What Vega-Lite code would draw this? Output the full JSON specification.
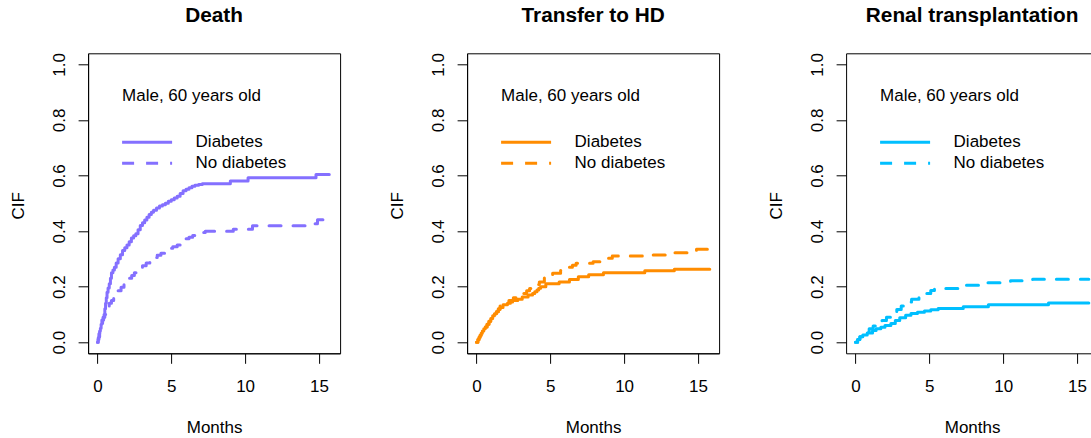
{
  "$schema": "https://vega.github.io/schema/vega-lite/v6.json",
  "background": "white",
  "padding": {"left": 9.1, "top": 4.3, "right": 0, "bottom": 0},
  "bounds": "flush",
  "spacing": 127,
  "config": {
    "font": "Liberation Sans",
    "view": {"stroke": "black", "strokeWidth": 1},
    "axis": {"grid": false, "domain": true, "domainColor": "black", "domainWidth": 1, "tickColor": "black", "tickSize": 10, "tickWidth": 1, "labelColor": "black", "labelFont": "Liberation Sans", "labelFontSize": 17, "titleFont": "Liberation Sans", "titleFontSize": 17, "titleFontWeight": "normal", "titleColor": "black", "labelOverlap": false, "labelFlush": false, "labelBound": false},
    "axisX": {"labelBaseline": "alphabetic", "labelAlign": "center", "labelPadding": 27.8, "titleBaseline": "alphabetic", "titleAlign": "center", "titleX": 126, "titleY": 79},
    "axisY": {"labelAngle": 270, "labelAlign": "center", "labelBaseline": "alphabetic", "labelPadding": 13.3, "titleAngle": 270, "titleAlign": "center", "titleBaseline": "alphabetic", "titleX": -64.3, "titleY": 152},
    "title": {"font": "Liberation Sans", "fontSize": 20.8, "fontWeight": "bold", "color": "black", "anchor": "middle", "frame": "group", "baseline": "alphabetic", "offset": 25.4},
    "legend": {"padding": 0, "titleFont": "Liberation Sans", "titleFontSize": 17, "titleFontWeight": "normal", "titleColor": "black", "titlePadding": 29, "labelFont": "Liberation Sans", "labelFontSize": 17, "labelColor": "black", "rowPadding": 3, "labelLimit": 0, "titleLimit": 0}
  },
  "datasets": {
    "death": [
      {"group": "Diabetes", "month": 0, "cif": 0}, {"group": "Diabetes", "month": 0.05, "cif": 0.015}, {"group": "Diabetes", "month": 0.1, "cif": 0.03}, {"group": "Diabetes", "month": 0.15, "cif": 0.04}, {"group": "Diabetes", "month": 0.2, "cif": 0.05}, {"group": "Diabetes", "month": 0.25, "cif": 0.065}, {"group": "Diabetes", "month": 0.3, "cif": 0.08}, {"group": "Diabetes", "month": 0.38, "cif": 0.09}, {"group": "Diabetes", "month": 0.45, "cif": 0.10}, {"group": "Diabetes", "month": 0.5, "cif": 0.12}, {"group": "Diabetes", "month": 0.55, "cif": 0.14}, {"group": "Diabetes", "month": 0.6, "cif": 0.16}, {"group": "Diabetes", "month": 0.65, "cif": 0.18}, {"group": "Diabetes", "month": 0.72, "cif": 0.195}, {"group": "Diabetes", "month": 0.8, "cif": 0.21}, {"group": "Diabetes", "month": 0.88, "cif": 0.23}, {"group": "Diabetes", "month": 0.95, "cif": 0.25}, {"group": "Diabetes", "month": 1.05, "cif": 0.26}, {"group": "Diabetes", "month": 1.15, "cif": 0.27}, {"group": "Diabetes", "month": 1.27, "cif": 0.285}, {"group": "Diabetes", "month": 1.4, "cif": 0.30}, {"group": "Diabetes", "month": 1.55, "cif": 0.315}, {"group": "Diabetes", "month": 1.7, "cif": 0.33}, {"group": "Diabetes", "month": 1.85, "cif": 0.34}, {"group": "Diabetes", "month": 2.0, "cif": 0.35}, {"group": "Diabetes", "month": 2.15, "cif": 0.362}, {"group": "Diabetes", "month": 2.3, "cif": 0.375}, {"group": "Diabetes", "month": 2.45, "cif": 0.383}, {"group": "Diabetes", "month": 2.6, "cif": 0.39}, {"group": "Diabetes", "month": 2.75, "cif": 0.405}, {"group": "Diabetes", "month": 2.9, "cif": 0.42}, {"group": "Diabetes", "month": 3.05, "cif": 0.43}, {"group": "Diabetes", "month": 3.2, "cif": 0.44}, {"group": "Diabetes", "month": 3.35, "cif": 0.45}, {"group": "Diabetes", "month": 3.5, "cif": 0.46}, {"group": "Diabetes", "month": 3.65, "cif": 0.468}, {"group": "Diabetes", "month": 3.8, "cif": 0.475}, {"group": "Diabetes", "month": 4.0, "cif": 0.483}, {"group": "Diabetes", "month": 4.2, "cif": 0.49}, {"group": "Diabetes", "month": 4.4, "cif": 0.495}, {"group": "Diabetes", "month": 4.6, "cif": 0.50}, {"group": "Diabetes", "month": 4.8, "cif": 0.507}, {"group": "Diabetes", "month": 5.0, "cif": 0.513}, {"group": "Diabetes", "month": 5.2, "cif": 0.519}, {"group": "Diabetes", "month": 5.4, "cif": 0.525}, {"group": "Diabetes", "month": 5.6, "cif": 0.535}, {"group": "Diabetes", "month": 5.8, "cif": 0.545}, {"group": "Diabetes", "month": 6.0, "cif": 0.551}, {"group": "Diabetes", "month": 6.2, "cif": 0.556}, {"group": "Diabetes", "month": 6.4, "cif": 0.561}, {"group": "Diabetes", "month": 6.6, "cif": 0.565}, {"group": "Diabetes", "month": 6.85, "cif": 0.568}, {"group": "Diabetes", "month": 7.1, "cif": 0.570}, {"group": "Diabetes", "month": 9.0, "cif": 0.58}, {"group": "Diabetes", "month": 10.2, "cif": 0.592}, {"group": "Diabetes", "month": 14.8, "cif": 0.604}, {"group": "Diabetes", "month": 15.7, "cif": 0.604},
      {"group": "No diabetes", "month": 0, "cif": 0}, {"group": "No diabetes", "month": 0.05, "cif": 0.01}, {"group": "No diabetes", "month": 0.1, "cif": 0.02}, {"group": "No diabetes", "month": 0.15, "cif": 0.035}, {"group": "No diabetes", "month": 0.2, "cif": 0.05}, {"group": "No diabetes", "month": 0.28, "cif": 0.065}, {"group": "No diabetes", "month": 0.35, "cif": 0.08}, {"group": "No diabetes", "month": 0.42, "cif": 0.09}, {"group": "No diabetes", "month": 0.5, "cif": 0.10}, {"group": "No diabetes", "month": 0.58, "cif": 0.11}, {"group": "No diabetes", "month": 0.65, "cif": 0.12}, {"group": "No diabetes", "month": 0.72, "cif": 0.13}, {"group": "No diabetes", "month": 0.8, "cif": 0.14}, {"group": "No diabetes", "month": 0.95, "cif": 0.15}, {"group": "No diabetes", "month": 1.1, "cif": 0.16}, {"group": "No diabetes", "month": 1.25, "cif": 0.173}, {"group": "No diabetes", "month": 1.4, "cif": 0.185}, {"group": "No diabetes", "month": 1.6, "cif": 0.198}, {"group": "No diabetes", "month": 1.8, "cif": 0.21}, {"group": "No diabetes", "month": 1.98, "cif": 0.22}, {"group": "No diabetes", "month": 2.15, "cif": 0.23}, {"group": "No diabetes", "month": 2.32, "cif": 0.24}, {"group": "No diabetes", "month": 2.5, "cif": 0.25}, {"group": "No diabetes", "month": 2.68, "cif": 0.258}, {"group": "No diabetes", "month": 2.85, "cif": 0.266}, {"group": "No diabetes", "month": 3.05, "cif": 0.275}, {"group": "No diabetes", "month": 3.3, "cif": 0.285}, {"group": "No diabetes", "month": 3.55, "cif": 0.295}, {"group": "No diabetes", "month": 3.8, "cif": 0.305}, {"group": "No diabetes", "month": 4.05, "cif": 0.313}, {"group": "No diabetes", "month": 4.3, "cif": 0.32}, {"group": "No diabetes", "month": 4.55, "cif": 0.329}, {"group": "No diabetes", "month": 4.85, "cif": 0.338}, {"group": "No diabetes", "month": 5.1, "cif": 0.344}, {"group": "No diabetes", "month": 5.4, "cif": 0.35}, {"group": "No diabetes", "month": 5.6, "cif": 0.358}, {"group": "No diabetes", "month": 5.8, "cif": 0.365}, {"group": "No diabetes", "month": 6.0, "cif": 0.372}, {"group": "No diabetes", "month": 6.2, "cif": 0.378}, {"group": "No diabetes", "month": 6.45, "cif": 0.384}, {"group": "No diabetes", "month": 6.7, "cif": 0.39}, {"group": "No diabetes", "month": 7.0, "cif": 0.395}, {"group": "No diabetes", "month": 7.3, "cif": 0.399}, {"group": "No diabetes", "month": 9.2, "cif": 0.407}, {"group": "No diabetes", "month": 10.5, "cif": 0.419}, {"group": "No diabetes", "month": 14.3, "cif": 0.426}, {"group": "No diabetes", "month": 14.9, "cif": 0.441}, {"group": "No diabetes", "month": 15.35, "cif": 0.441}
    ],
    "hd": [
      {"group": "Diabetes", "month": 0, "cif": 0}, {"group": "Diabetes", "month": 0.1, "cif": 0.01}, {"group": "Diabetes", "month": 0.18, "cif": 0.018}, {"group": "Diabetes", "month": 0.25, "cif": 0.025}, {"group": "Diabetes", "month": 0.32, "cif": 0.032}, {"group": "Diabetes", "month": 0.4, "cif": 0.04}, {"group": "Diabetes", "month": 0.5, "cif": 0.048}, {"group": "Diabetes", "month": 0.6, "cif": 0.055}, {"group": "Diabetes", "month": 0.72, "cif": 0.065}, {"group": "Diabetes", "month": 0.85, "cif": 0.075}, {"group": "Diabetes", "month": 0.97, "cif": 0.085}, {"group": "Diabetes", "month": 1.1, "cif": 0.095}, {"group": "Diabetes", "month": 1.22, "cif": 0.102}, {"group": "Diabetes", "month": 1.35, "cif": 0.11}, {"group": "Diabetes", "month": 1.48, "cif": 0.118}, {"group": "Diabetes", "month": 1.6, "cif": 0.125}, {"group": "Diabetes", "month": 1.8, "cif": 0.135}, {"group": "Diabetes", "month": 2.1, "cif": 0.14}, {"group": "Diabetes", "month": 2.3, "cif": 0.145}, {"group": "Diabetes", "month": 2.45, "cif": 0.15}, {"group": "Diabetes", "month": 2.8, "cif": 0.155}, {"group": "Diabetes", "month": 3.1, "cif": 0.163}, {"group": "Diabetes", "month": 3.5, "cif": 0.17}, {"group": "Diabetes", "month": 3.8, "cif": 0.175}, {"group": "Diabetes", "month": 3.95, "cif": 0.182}, {"group": "Diabetes", "month": 4.1, "cif": 0.188}, {"group": "Diabetes", "month": 4.22, "cif": 0.194}, {"group": "Diabetes", "month": 4.35, "cif": 0.2}, {"group": "Diabetes", "month": 4.7, "cif": 0.21}, {"group": "Diabetes", "month": 5.6, "cif": 0.217}, {"group": "Diabetes", "month": 6.3, "cif": 0.226}, {"group": "Diabetes", "month": 6.9, "cif": 0.236}, {"group": "Diabetes", "month": 7.6, "cif": 0.243}, {"group": "Diabetes", "month": 8.6, "cif": 0.25}, {"group": "Diabetes", "month": 11.4, "cif": 0.257}, {"group": "Diabetes", "month": 13.4, "cif": 0.263}, {"group": "Diabetes", "month": 15.8, "cif": 0.263},
      {"group": "No diabetes", "month": 0, "cif": 0}, {"group": "No diabetes", "month": 0.1, "cif": 0.01}, {"group": "No diabetes", "month": 0.18, "cif": 0.018}, {"group": "No diabetes", "month": 0.25, "cif": 0.025}, {"group": "No diabetes", "month": 0.32, "cif": 0.032}, {"group": "No diabetes", "month": 0.4, "cif": 0.04}, {"group": "No diabetes", "month": 0.5, "cif": 0.048}, {"group": "No diabetes", "month": 0.6, "cif": 0.055}, {"group": "No diabetes", "month": 0.72, "cif": 0.065}, {"group": "No diabetes", "month": 0.85, "cif": 0.075}, {"group": "No diabetes", "month": 0.97, "cif": 0.085}, {"group": "No diabetes", "month": 1.1, "cif": 0.095}, {"group": "No diabetes", "month": 1.22, "cif": 0.102}, {"group": "No diabetes", "month": 1.35, "cif": 0.11}, {"group": "No diabetes", "month": 1.48, "cif": 0.12}, {"group": "No diabetes", "month": 1.6, "cif": 0.13}, {"group": "No diabetes", "month": 1.8, "cif": 0.14}, {"group": "No diabetes", "month": 2.2, "cif": 0.15}, {"group": "No diabetes", "month": 2.5, "cif": 0.16}, {"group": "No diabetes", "month": 2.7, "cif": 0.168}, {"group": "No diabetes", "month": 2.9, "cif": 0.175}, {"group": "No diabetes", "month": 3.4, "cif": 0.185}, {"group": "No diabetes", "month": 3.6, "cif": 0.193}, {"group": "No diabetes", "month": 3.8, "cif": 0.2}, {"group": "No diabetes", "month": 4.05, "cif": 0.208}, {"group": "No diabetes", "month": 4.26, "cif": 0.217}, {"group": "No diabetes", "month": 4.6, "cif": 0.232}, {"group": "No diabetes", "month": 4.9, "cif": 0.24}, {"group": "No diabetes", "month": 5.16, "cif": 0.248}, {"group": "No diabetes", "month": 5.7, "cif": 0.258}, {"group": "No diabetes", "month": 6.2, "cif": 0.27}, {"group": "No diabetes", "month": 6.5, "cif": 0.277}, {"group": "No diabetes", "month": 6.75, "cif": 0.284}, {"group": "No diabetes", "month": 7.9, "cif": 0.29}, {"group": "No diabetes", "month": 8.66, "cif": 0.302}, {"group": "No diabetes", "month": 9.2, "cif": 0.31}, {"group": "No diabetes", "month": 11.4, "cif": 0.314}, {"group": "No diabetes", "month": 13.1, "cif": 0.322}, {"group": "No diabetes", "month": 14.9, "cif": 0.335}, {"group": "No diabetes", "month": 15.8, "cif": 0.335}
    ],
    "renal": [
      {"group": "Diabetes", "month": 0, "cif": 0}, {"group": "Diabetes", "month": 0.15, "cif": 0.01}, {"group": "Diabetes", "month": 0.3, "cif": 0.02}, {"group": "Diabetes", "month": 0.5, "cif": 0.026}, {"group": "Diabetes", "month": 0.8, "cif": 0.033}, {"group": "Diabetes", "month": 1.16, "cif": 0.042}, {"group": "Diabetes", "month": 1.4, "cif": 0.048}, {"group": "Diabetes", "month": 1.72, "cif": 0.054}, {"group": "Diabetes", "month": 2.0, "cif": 0.06}, {"group": "Diabetes", "month": 2.4, "cif": 0.067}, {"group": "Diabetes", "month": 2.7, "cif": 0.078}, {"group": "Diabetes", "month": 3.0, "cif": 0.088}, {"group": "Diabetes", "month": 3.4, "cif": 0.097}, {"group": "Diabetes", "month": 3.76, "cif": 0.103}, {"group": "Diabetes", "month": 4.2, "cif": 0.108}, {"group": "Diabetes", "month": 4.67, "cif": 0.112}, {"group": "Diabetes", "month": 5.1, "cif": 0.117}, {"group": "Diabetes", "month": 5.6, "cif": 0.121}, {"group": "Diabetes", "month": 7.3, "cif": 0.128}, {"group": "Diabetes", "month": 9.0, "cif": 0.135}, {"group": "Diabetes", "month": 13.07, "cif": 0.141}, {"group": "Diabetes", "month": 15.8, "cif": 0.141},
      {"group": "No diabetes", "month": 0, "cif": 0}, {"group": "No diabetes", "month": 0.15, "cif": 0.01}, {"group": "No diabetes", "month": 0.3, "cif": 0.02}, {"group": "No diabetes", "month": 0.5, "cif": 0.028}, {"group": "No diabetes", "month": 0.75, "cif": 0.038}, {"group": "No diabetes", "month": 0.93, "cif": 0.048}, {"group": "No diabetes", "month": 1.2, "cif": 0.058}, {"group": "No diabetes", "month": 1.5, "cif": 0.067}, {"group": "No diabetes", "month": 1.8, "cif": 0.078}, {"group": "No diabetes", "month": 2.1, "cif": 0.09}, {"group": "No diabetes", "month": 2.4, "cif": 0.103}, {"group": "No diabetes", "month": 2.8, "cif": 0.118}, {"group": "No diabetes", "month": 3.1, "cif": 0.13}, {"group": "No diabetes", "month": 3.42, "cif": 0.145}, {"group": "No diabetes", "month": 3.8, "cif": 0.155}, {"group": "No diabetes", "month": 4.3, "cif": 0.165}, {"group": "No diabetes", "month": 4.78, "cif": 0.175}, {"group": "No diabetes", "month": 5.1, "cif": 0.186}, {"group": "No diabetes", "month": 5.35, "cif": 0.193}, {"group": "No diabetes", "month": 7.3, "cif": 0.205}, {"group": "No diabetes", "month": 8.8, "cif": 0.214}, {"group": "No diabetes", "month": 10.5, "cif": 0.221}, {"group": "No diabetes", "month": 12.0, "cif": 0.227}, {"group": "No diabetes", "month": 15.8, "cif": 0.227}
    ]
  },
  "resolve": {"scale": {"strokeDash": "independent"}, "legend": {"strokeDash": "independent"}},
  "hconcat": [
    {
      "width": 252, "height": 300,
      "data": {"name": "death"},
      "title": {"text": "Death"},
      "mark": {"type": "line", "interpolate": "step-after", "strokeWidth": 3, "color": "#8470FF", "strokeCap": "round", "strokeJoin": "round"},
      "encoding": {
        "x": {"field": "month", "type": "quantitative", "title": "Months", "scale": {"domain": [-0.632, 16.432], "nice": false, "zero": false}, "axis": {"values": [0, 5, 10, 15]}},
        "y": {"field": "cif", "type": "quantitative", "title": "CIF", "scale": {"domain": [-0.04, 1.04], "nice": false, "zero": false}, "axis": {"values": [0, 0.2, 0.4, 0.6, 0.8, 1], "format": ".1f"}},
        "strokeDash": {"field": "group", "type": "nominal", "scale": {"domain": ["Diabetes", "No diabetes"], "range": [[1, 0], [12, 12]]}, "legend": {"title": "Male, 60 years old", "orient": "none", "legendX": 34, "legendY": 34.4, "symbolType": "M-5,0H5", "symbolSize": 100, "symbolStrokeWidth": 3, "symbolStrokeColor": "#8470FF", "symbolFillColor": "transparent", "symbolOffset": 16.5, "labelOffset": 40}}
      }
    },
    {
      "width": 252, "height": 300,
      "data": {"name": "hd"},
      "title": {"text": "Transfer to HD"},
      "mark": {"type": "line", "interpolate": "step-after", "strokeWidth": 3, "color": "#FF8C00", "strokeCap": "round", "strokeJoin": "round"},
      "encoding": {
        "x": {"field": "month", "type": "quantitative", "title": "Months", "scale": {"domain": [-0.632, 16.432], "nice": false, "zero": false}, "axis": {"values": [0, 5, 10, 15]}},
        "y": {"field": "cif", "type": "quantitative", "title": "CIF", "scale": {"domain": [-0.04, 1.04], "nice": false, "zero": false}, "axis": {"values": [0, 0.2, 0.4, 0.6, 0.8, 1], "format": ".1f"}},
        "strokeDash": {"field": "group", "type": "nominal", "scale": {"domain": ["Diabetes", "No diabetes"], "range": [[1, 0], [12, 12]]}, "legend": {"title": "Male, 60 years old", "orient": "none", "legendX": 34, "legendY": 34.4, "symbolType": "M-5,0H5", "symbolSize": 100, "symbolStrokeWidth": 3, "symbolStrokeColor": "#FF8C00", "symbolFillColor": "transparent", "symbolOffset": 16.5, "labelOffset": 40}}
      }
    },
    {
      "width": 245, "height": 300,
      "data": {"name": "renal"},
      "view": {"stroke": null},
      "title": {"text": "Renal transplantation", "dx": 3.5},
      "layer": [
        {
          "mark": {"type": "line", "interpolate": "step-after", "strokeWidth": 3, "color": "#00BFFF", "strokeCap": "round", "strokeJoin": "round"},
          "encoding": {
            "x": {"field": "month", "type": "quantitative", "title": "Months", "scale": {"domain": [-0.632, 15.955], "nice": false, "zero": false}, "axis": {"values": [0, 5, 10, 15]}},
            "y": {"field": "cif", "type": "quantitative", "title": "CIF", "scale": {"domain": [-0.04, 1.04], "nice": false, "zero": false}, "axis": {"values": [0, 0.2, 0.4, 0.6, 0.8, 1], "format": ".1f"}},
            "strokeDash": {"field": "group", "type": "nominal", "scale": {"domain": ["Diabetes", "No diabetes"], "range": [[1, 0], [12, 12]]}, "legend": {"title": "Male, 60 years old", "orient": "none", "legendX": 34, "legendY": 34.4, "symbolType": "M-5,0H5", "symbolSize": 100, "symbolStrokeWidth": 3, "symbolStrokeColor": "#00BFFF", "symbolFillColor": "transparent", "symbolOffset": 16.5, "labelOffset": 40}}
          }
        },
        {
          "mark": {"type": "line", "opacity": 0},
          "encoding": {
            "x": {"field": "month", "type": "quantitative", "title": null, "scale": {"domain": [-0.632, 15.955], "nice": false, "zero": false}, "axis": {"orient": "top", "ticks": false, "labels": false, "title": null}},
            "y": {"field": "cif", "type": "quantitative", "title": "CIF"}
          }
        }
      ],
      "resolve": {"axis": {"x": "independent"}}
    }
  ]
}
